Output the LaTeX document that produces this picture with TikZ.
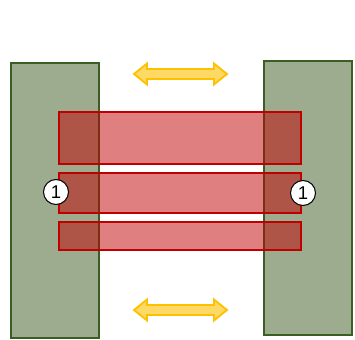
\documentclass[tikz,border=0pt]{standalone}
\usepackage{fontspec}
\setmainfont{Liberation Sans}
\definecolor{gfill}{HTML}{9DAB8F}
\definecolor{gline}{HTML}{3B5E25}
\definecolor{rline}{HTML}{C00000}
\definecolor{rfill}{HTML}{C00000}
\definecolor{afill}{HTML}{FFD966}
\definecolor{aline}{HTML}{FFC000}
\begin{document}
\begin{tikzpicture}[x=1pt,y=-1pt,
  post/.style={draw=gline,fill=gfill,line width=2pt},
  bar/.style={draw=rline,fill=rfill,fill opacity=0.5,draw opacity=1,line width=2.4pt},
  marker/.style={circle,draw=black,fill=white,line width=1pt,minimum size=25pt,inner sep=0pt,font=\fontsize{18.5}{18.5}\selectfont},
  yarrow/.style={draw=aline,fill=afill,line width=1.8pt,line join=miter}]
\useasboundingbox (0,0) rectangle (355,339);
% posts
\draw[post] (10.5,63) rectangle (99,337.5);
\draw[post] (264,61) rectangle (351.5,335);
% bars
\draw[bar] (59,112) rectangle (301,164);
\draw[bar] (59,173) rectangle (301,213);
\draw[bar] (59,222) rectangle (301,250);
% markers
\node[marker] (m1) at (56,192) {1};
\node[marker] (m2) at (303,193) {1};
% arrows
\foreach \yc in {74,310}{
  \draw[yarrow] (134,\yc) -- (147,\yc-10.5) -- (147,\yc-5) -- (214,\yc-5) -- (214,\yc-10.5)
    -- (227,\yc) -- (214,\yc+10.5) -- (214,\yc+5) -- (147,\yc+5) -- (147,\yc+10.5) -- cycle;
}
\end{tikzpicture}
\end{document}
